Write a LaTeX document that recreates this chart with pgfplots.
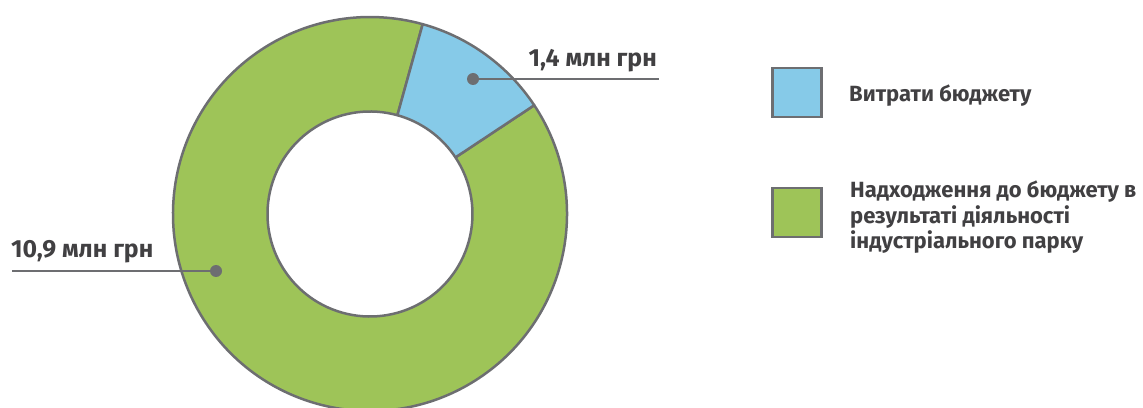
\documentclass[border=0pt]{standalone}
\usepackage{pgfplots}
\pgfplotsset{compat=1.18}
\usepackage{pgfplotstable}
\usepackage{fontspec}
\setmainfont{Fira Sans}

\definecolor{ringblue}{RGB}{134,202,232}
\definecolor{ringgreen}{RGB}{158,196,88}
\definecolor{edgegray}{RGB}{109,110,113}
\definecolor{textgray}{RGB}{65,64,66}

% value in mln UAH
\pgfplotstableread{
part value
spend 1.4
income 10.9
}\donutdata

\pgfplotstablegetelem{0}{value}\of\donutdata \let\vspend\pgfplotsretval
\pgfplotstablegetelem{1}{value}\of\donutdata \let\vincome\pgfplotsretval
\pgfmathsetmacro{\spanA}{360*\vspend/(\vspend+\vincome)}
\pgfmathsetmacro{\midA}{54}
\pgfmathsetmacro{\angA}{\midA+\spanA/2}
\pgfmathsetmacro{\angB}{\midA-\spanA/2}
\pgfmathsetmacro{\angC}{\angA-360}

\def\cx{370}
\def\cy{193}
\def\Ro{197}
\def\Ri{102.5}

\begin{document}
\begin{tikzpicture}
\useasboundingbox (0,0) rectangle (1143pt,407pt);
\begin{axis}[
    at={(0pt,0pt)}, anchor=origin,
    x=1pt, y=1pt,
    xmin=0, xmax=1143, ymin=0, ymax=407,
    hide axis, clip=false,
]
    % ring segments
    \filldraw[fill=ringgreen, draw=edgegray, line width=2.5pt, line join=round]
        ([shift={(\angB:\Ro pt)}]axis cs:\cx,\cy)
        arc[start angle=\angB, end angle=\angC, radius=\Ro pt]
        -- ([shift={(\angC:\Ri pt)}]axis cs:\cx,\cy)
        arc[start angle=\angC, end angle=\angB, radius=\Ri pt] -- cycle;
    \filldraw[fill=ringblue, draw=edgegray, line width=2.5pt, line join=round]
        ([shift={(\angA:\Ro pt)}]axis cs:\cx,\cy)
        arc[start angle=\angA, end angle=\angB, radius=\Ro pt]
        -- ([shift={(\angB:\Ri pt)}]axis cs:\cx,\cy)
        arc[start angle=\angB, end angle=\angA, radius=\Ri pt] -- cycle;

    % leader lines
    \draw[edgegray, line width=2.5pt] (axis cs:473,328) -- (axis cs:659,328);
    \fill[edgegray] (axis cs:473,328) circle[radius=6pt];
    \draw[edgegray, line width=2.5pt] (axis cs:216,136) -- (axis cs:12,136);
    \fill[edgegray] (axis cs:216,136) circle[radius=6pt];

    \node[anchor=base east, text=textgray, font=\bfseries\fontsize{24.8}{28}\selectfont, inner sep=0pt]
        at (axis cs:657,340.5) {1,4 млн грн};
    \node[anchor=base west, text=textgray, font=\bfseries\fontsize{24.8}{28}\selectfont, inner sep=0pt]
        at (axis cs:11,149) {10,9 млн грн};

    % legend
    \filldraw[fill=ringblue, draw=edgegray, line width=2.6pt]
        (axis cs:772.5,339) rectangle (axis cs:821.5,290);
    \filldraw[fill=ringgreen, draw=edgegray, line width=2.6pt]
        (axis cs:772.5,219) rectangle (axis cs:821.5,170);
    \begin{scope}[every node/.style={anchor=base west, text=textgray, inner sep=0pt,
        font=\bfseries\fontsize{22}{25}\selectfont}]
    \node at (axis cs:849,305) {Витрати бюджету};
    \node at (axis cs:850,209) {Надходження до бюджету в};
    \node at (axis cs:850,183.5) {результаті діяльності};
    \node at (axis cs:850,158) {індустріального парку};
    \end{scope}
\end{axis}
\end{tikzpicture}
\end{document}
